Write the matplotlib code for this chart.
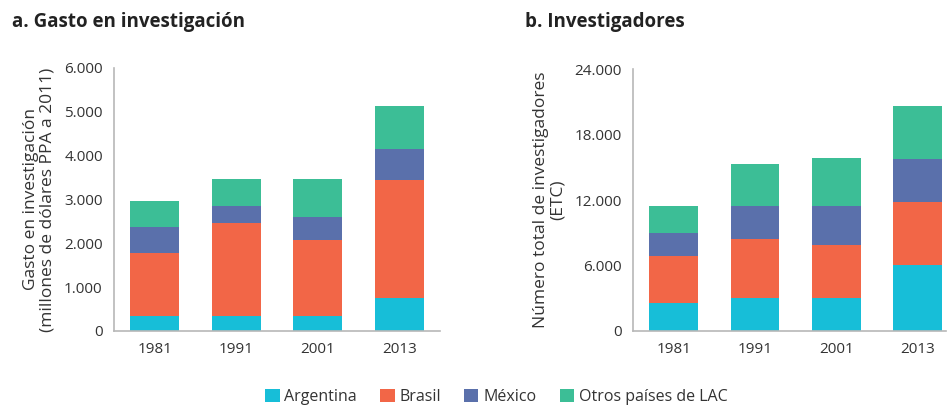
import numpy as np
import matplotlib
matplotlib.use('Agg')
import matplotlib.pyplot as plt
from matplotlib.ticker import FuncFormatter

plt.rcParams['font.family'] = ['Open Sans', 'DejaVu Sans']

years = ['1981', '1991', '2001', '2013']
series = ['Argentina', 'Brasil', 'México', 'Otros países de LAC']
colors = ['#17BED8', '#F26647', '#5A70AB', '#3CBE96']

# gasto en investigación (millones de dólares PPA a 2011)
gasto_argentina = [343, 343, 343, 740]
gasto_brasil = [1427, 2112, 1739, 2692]
gasto_mexico = [595, 390, 511, 710]
gasto_otros = [610, 625, 862, 991]

# número total de investigadores (ETC)
inv_argentina = [2530, 3050, 3050, 6040]
inv_brasil = [4360, 5370, 4820, 5790]
inv_mexico = [2050, 3050, 3600, 3900]
inv_otros = [2530, 3810, 4340, 4940]

def fmt(x, pos):
    return '{:,.0f}'.format(x).replace(',', '.')

def stacked(ax, data, xmax):
    x = np.arange(len(years))
    bottom = np.zeros(len(years))
    for vals, c, name in zip(data, colors, series):
        ax.bar(x, vals, 0.6, bottom=bottom, color=c, label=name)
        bottom += np.array(vals)
    ax.set_xlim(-0.5, xmax)
    ax.set_xticks(x)
    ax.set_xticklabels(years)
    for s in ['top', 'right']:
        ax.spines[s].set_visible(False)
    for s in ['left', 'bottom']:
        ax.spines[s].set_color('#b8b8b8')
        ax.spines[s].set_linewidth(1.2)
    ax.tick_params(length=0, labelsize=11, colors='#333333', pad=8)
    ax.yaxis.set_major_formatter(FuncFormatter(fmt))

fig = plt.figure(figsize=(9.49, 4.07), dpi=100)
ax1 = fig.add_axes([0.120, 0.187, 0.344, 0.646])
ax2 = fig.add_axes([0.667, 0.187, 0.330, 0.643])

stacked(ax1, [gasto_argentina, gasto_brasil, gasto_mexico, gasto_otros], 3.5)
ax1.set_ylim(0, 6000)
ax1.set_yticks(np.arange(0, 6001, 1000))
ax1.set_ylabel('Gasto en investigación\n(millones de dólares PPA a 2011)',
               fontsize=12.5, color='#333333', labelpad=6, linespacing=1.1)

stacked(ax2, [inv_argentina, inv_brasil, inv_mexico, inv_otros], 3.35)
ax2.set_ylim(0, 24000)
ax2.set_yticks(np.arange(0, 24001, 6000))
ax2.set_ylabel('Número total de investigadores\n(ETC)',
               fontsize=12.5, color='#333333', labelpad=6, linespacing=1.1)

fig.text(0.013, 0.945, 'a. Gasto en investigación', fontsize=13.5,
         fontweight='bold', color='#222222', va='center')
fig.text(0.553, 0.945, 'b. Investigadores', fontsize=13.5,
         fontweight='bold', color='#222222', va='center')

handles, labels = ax1.get_legend_handles_labels()
fig.legend(handles, labels, loc='center', bbox_to_anchor=(0.523, 0.025),
           ncol=4, frameon=False, fontsize=11.5, handlelength=0.9,
           handleheight=0.9, handletextpad=0.3, columnspacing=1.45,
           labelcolor='#333333')

fig.savefig('out.png', dpi=100)
